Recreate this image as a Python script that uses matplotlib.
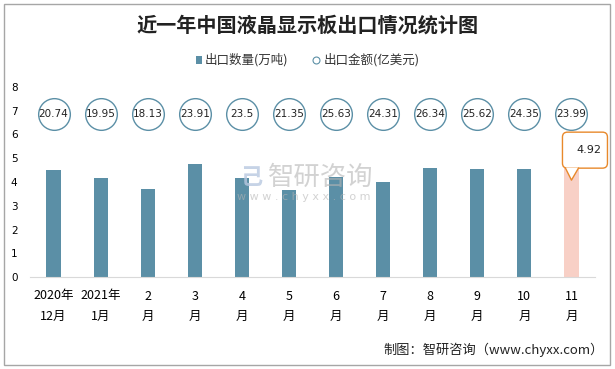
import matplotlib
matplotlib.use("Agg")
import matplotlib.pyplot as plt
from matplotlib.patches import Rectangle, FancyBboxPatch, Polygon
from matplotlib.lines import Line2D
from matplotlib.transforms import Affine2D, ScaledTranslation

plt.rcParams['font.family'] = ['Noto Sans CJK SC', 'DejaVu Sans']

categories = ["2020年\n12月", "2021年\n1月", "2\n月", "3\n月", "4\n月", "5\n月",
              "6\n月", "7\n月", "8\n月", "9\n月", "10\n月", "11\n月"]
quantity = [4.5, 4.17, 3.7, 4.76, 4.17, 3.66, 4.2, 4.0, 4.59, 4.55, 4.55, 4.92]
amount = [20.74, 19.95, 18.13, 23.91, 23.5, 21.35, 25.63, 24.31, 26.34, 25.62, 24.35, 23.99]
circle_level = 6.88

bar_color = "#5B8FA6"
hl_color = "#F8D0C6"
circle_edge = "#5B8FA6"
call_color = "#E8892B"

fig = plt.figure(figsize=(6.15, 3.69), dpi=100)
ax = fig.add_axes([30/615, 1-277/369, 565/615, 190/369])

x = list(range(len(categories)))
colors = [bar_color]*(len(x)-1) + [hl_color]
ax.bar(x, quantity, width=0.3, color=colors, zorder=2)
ax.scatter(x, [circle_level]*len(x), s=520, facecolors="white",
           edgecolors=circle_edge, linewidths=1.0, zorder=3)
for xi, v in zip(x, amount):
    ax.text(xi, circle_level, f"{v:g}", ha="center", va="center", fontsize=7.5,
            color="#222222", zorder=4, family="DejaVu Sans")

ax.set_xlim(-0.5, len(x)-0.5)
ax.set_ylim(0, 8)
ax.set_yticks(range(0, 9))
ax.set_xticks(x)
ax.set_xticklabels(categories, fontsize=9, linespacing=1.75)
ax.tick_params(axis='y', length=0, pad=9, labelsize=7.5)
ax.tick_params(axis='x', length=0, pad=9)
for lab in ax.get_yticklabels():
    lab.set_family("DejaVu Sans")
for s in ["top", "right", "left"]:
    ax.spines[s].set_visible(False)
ax.spines["bottom"].set_color("#D9D9D9")

# callout for last bar (shape in pixel offsets from the bar top)
last = len(x)-1
trans = Affine2D() + ScaledTranslation(last, quantity[last], ax.transData)
box = FancyBboxPatch((-9, -8), 45, 36, boxstyle="round,pad=0,rounding_size=5",
                     transform=trans, facecolor="white", edgecolor=call_color,
                     linewidth=1.0, zorder=5, clip_on=False)
ax.add_patch(box)
ptr = Polygon([[-6, -7.5], [7, -7.5], [0, -20]], closed=True, facecolor="white",
              edgecolor="none", transform=trans, zorder=6, clip_on=False)
ax.add_patch(ptr)
ax.add_line(Line2D([-6, 0, 7], [-8, -20, -8], color=call_color, lw=1.0,
                   transform=trans, zorder=7, clip_on=False))
ax.text(17, 10, f"{quantity[last]:g}", ha="center", va="center", transform=trans,
        fontsize=8, color="#222222", zorder=8, family="DejaVu Sans")

# watermark
fig.text(268/615, 1-177/369, "智研咨询", fontsize=19, color="#B5B5B5", alpha=0.6,
         ha="left", va="center")
fig.text(251/615, 1-177/369, "己", fontsize=16, fontweight="bold", color="#B8C8E0",
         alpha=0.8, ha="center", va="center")
fig.text(237/615, 1-197/369, "w w w . c h y x x . c o m", fontsize=8, color="#B5B5B5",
         alpha=0.6, ha="left", va="center", family="DejaVu Sans")

# title
fig.text(0.5, 1-25/369, "近一年中国液晶显示板出口情况统计图", fontsize=14.5,
         fontweight="bold", ha="center", va="center", color="#222222")

# legend
ly = 1-60/369
fig.patches.append(Rectangle((196/615, ly-4/369), 6/615, 8/369, transform=fig.transFigure,
                             facecolor=bar_color, edgecolor="none"))
fig.text(205/615, ly, "出口数量(万吨)", fontsize=9, ha="left", va="center", color="#333333")
fig.lines.append(Line2D([316/615], [ly], marker="o", markersize=5,
                        markerfacecolor="white", markeredgecolor=circle_edge,
                        markeredgewidth=0.8, transform=fig.transFigure))
fig.text(324/615, ly, "出口金额(亿美元)", fontsize=9, ha="left", va="center", color="#333333")

# footer
fig.text(604/615, 1-350/369, "制图：智研咨询（www.chyxx.com）", fontsize=9.5,
         ha="right", va="center", color="#222222")

# border
fig.patches.append(Rectangle((4/615, 4/369), 606/615, 361/369, transform=fig.transFigure,
                             facecolor="none", edgecolor="#A6A6A6", linewidth=1.0))

fig.savefig("out.png", dpi=100)
